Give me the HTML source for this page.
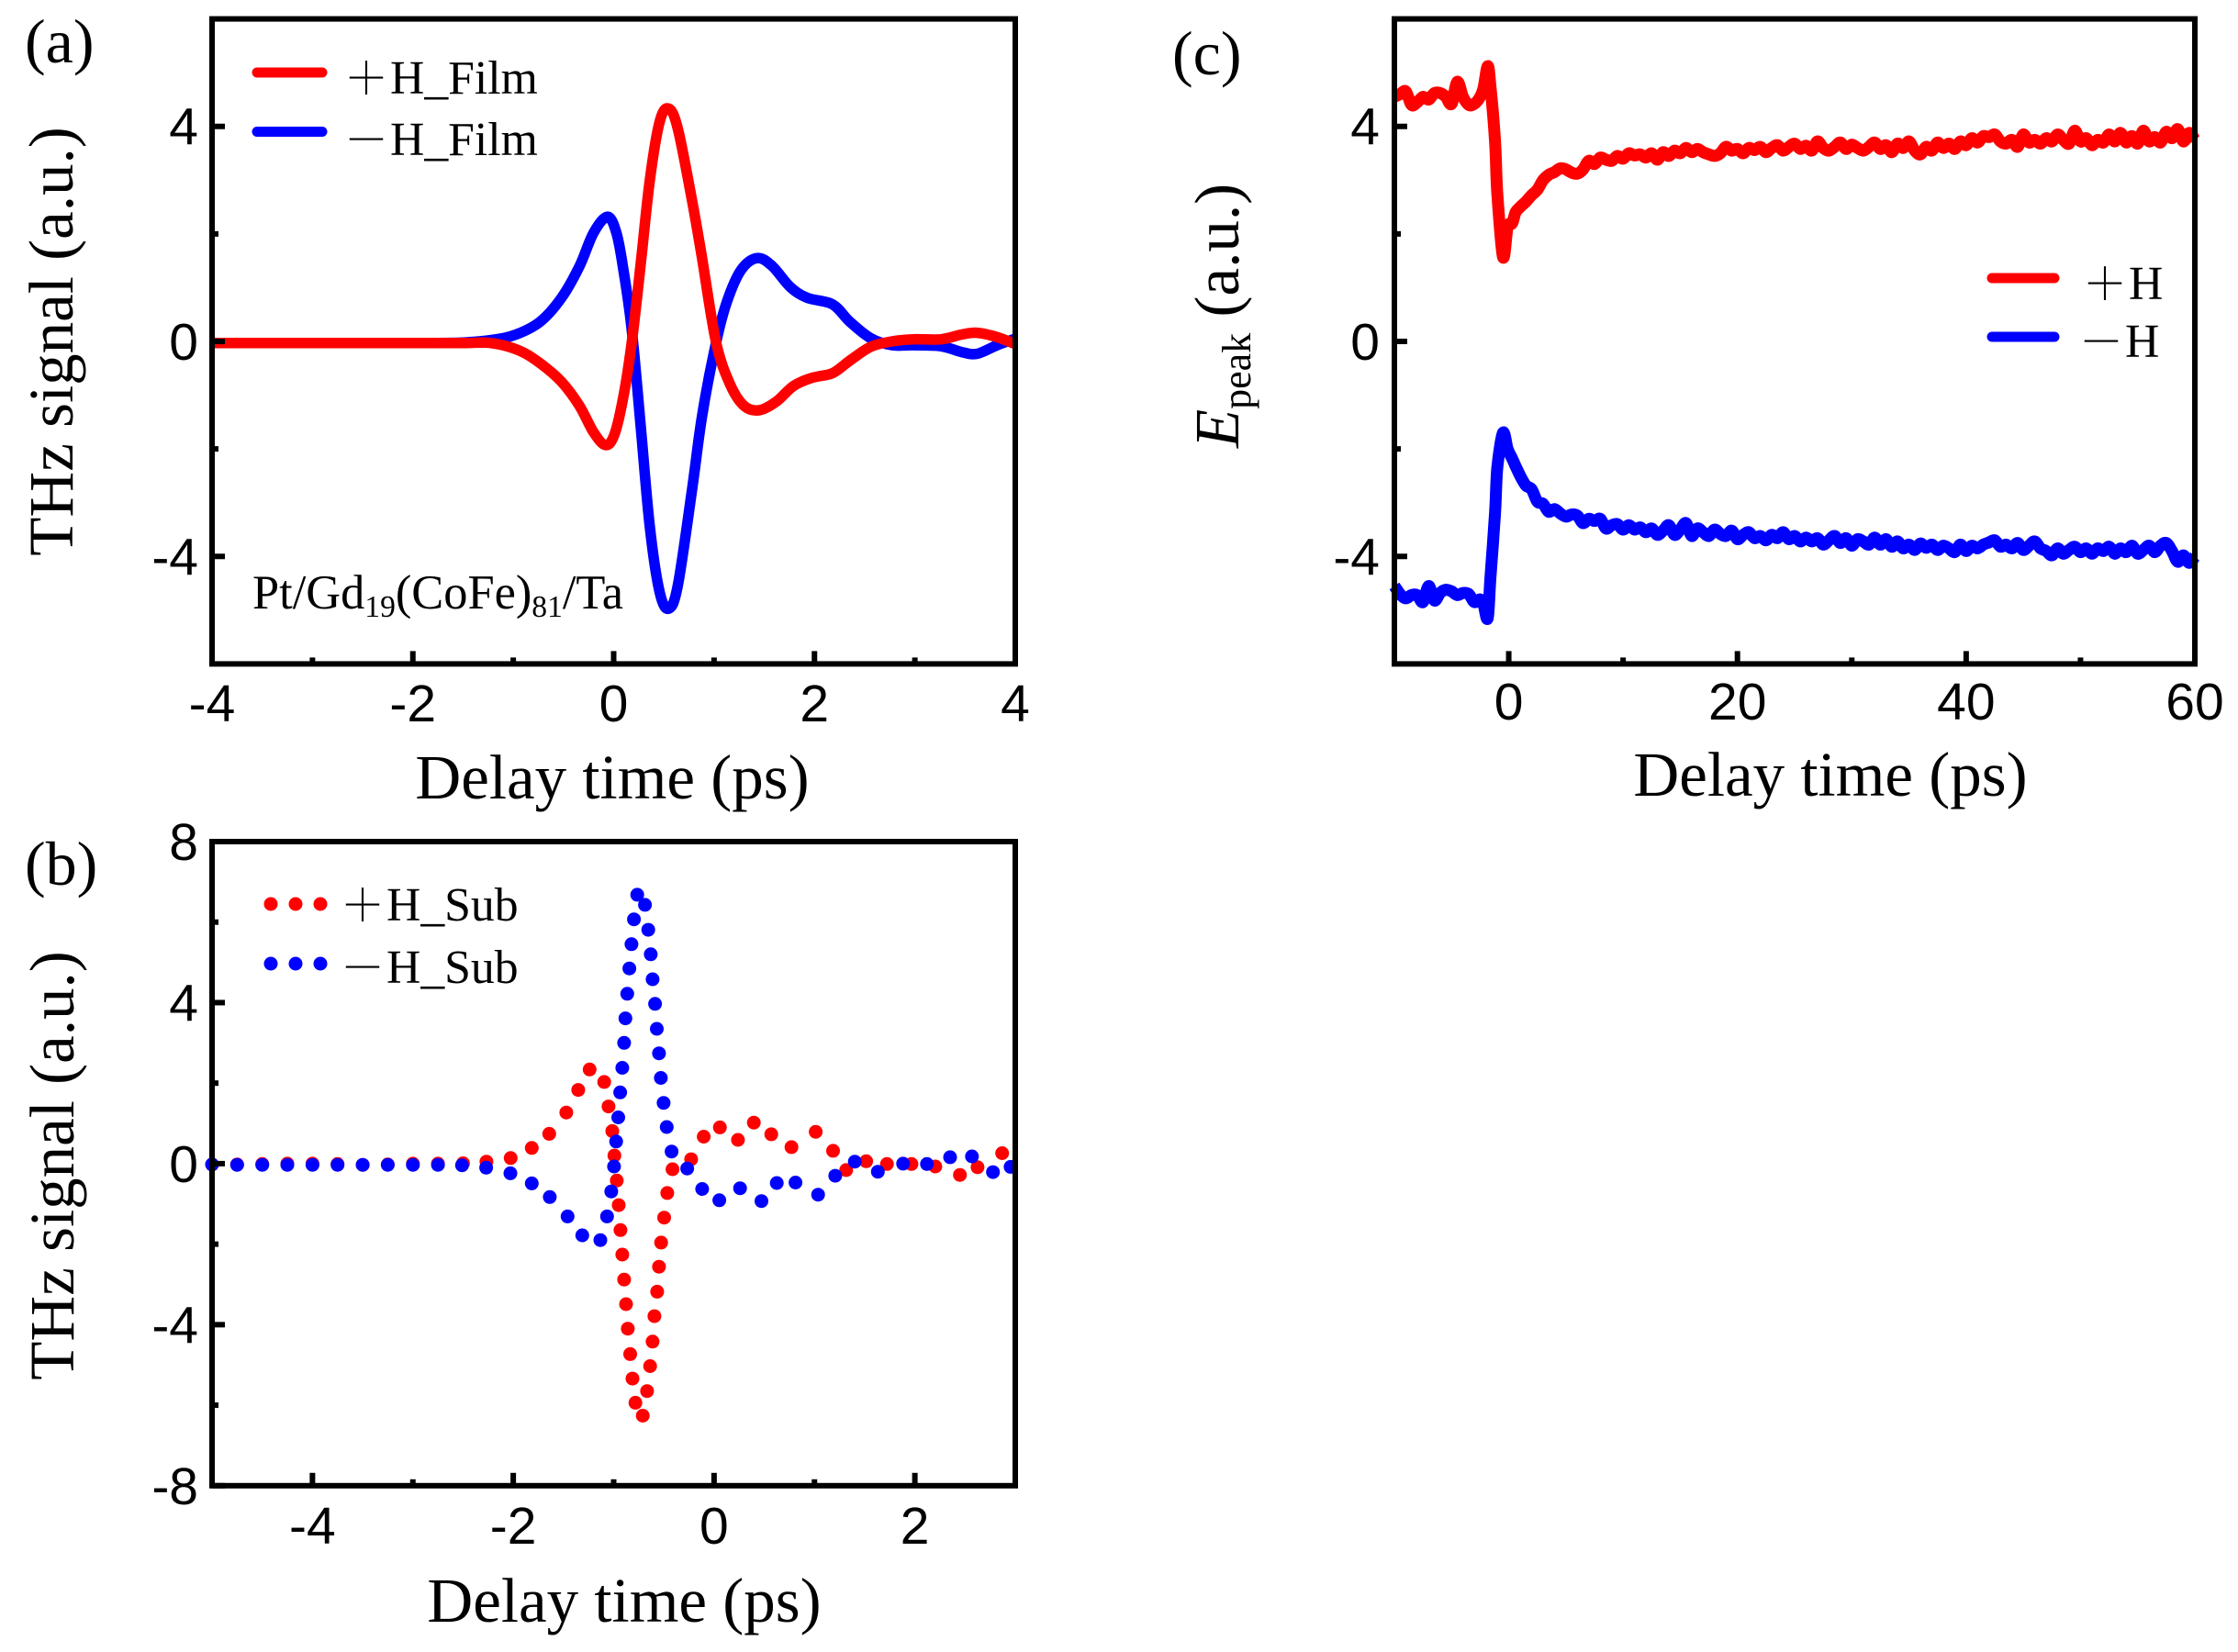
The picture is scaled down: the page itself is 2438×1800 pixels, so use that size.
<!DOCTYPE html>
<html>
<head>
<meta charset="utf-8">
<title>THz signal panels</title>
<style>
html,body{margin:0;padding:0;background:#fff;width:2438px;height:1800px;overflow:hidden}
svg{display:block}
text{font-family:"Liberation Serif","Noto Serif CJK SC",serif;fill:#000}
.tick{font-family:"Liberation Sans",sans-serif;font-size:57px}
.title{font-size:69px}
.panel{font-size:68px}
.leg{font-size:51.7px}
.sym{font-family:"Noto Serif CJK SC",serif;font-size:48px}
</style>
</head>
<body>
<svg id="fig" width="2438" height="1800" viewBox="0 0 2438 1800" xmlns="http://www.w3.org/2000/svg">
  <rect x="0" y="0" width="2438" height="1800" fill="#fff"/>

  <g id="panel-a"></g>
  <g id="panel-b"></g>
  <g id="panel-c"></g>

  <!-- panel a text -->
  <text class="panel" x="27" y="68">(a)</text>
  <text class="title" transform="translate(79,372) rotate(-90)" text-anchor="middle">THz signal (a.u.)</text>
  <text class="title" x="667" y="870" text-anchor="middle">Delay time (ps)</text>
  <line x1="280" y1="79" x2="351" y2="79" stroke="#ff0000" stroke-width="11" stroke-linecap="round"/>
  <line x1="280" y1="143.5" x2="351" y2="143.5" stroke="#0000ff" stroke-width="11" stroke-linecap="round"/>
  <text x="375" y="102"><tspan class="sym">＋</tspan><tspan class="leg" x="425">H_Film</tspan></text>
  <text x="375" y="169"><tspan class="sym">－</tspan><tspan class="leg" x="425">H_Film</tspan></text>
  <text x="275" y="663" font-size="52.4">Pt/Gd<tspan font-size="33.6" dy="9">19</tspan><tspan dy="-9">(CoFe)</tspan><tspan font-size="33.6" dy="9">81</tspan><tspan dy="-9">/Ta</tspan></text>

  <!-- panel b text -->
  <text class="panel" x="27" y="964">(b)</text>
  <text class="title" transform="translate(80,1270) rotate(-90)" text-anchor="middle">THz signal (a.u.)</text>
  <text class="title" x="680" y="1767" text-anchor="middle">Delay time (ps)</text>
  <text x="371" y="1003"><tspan class="sym">＋</tspan><tspan class="leg" x="421">H_Sub</tspan></text>
  <text x="371" y="1071"><tspan class="sym">－</tspan><tspan class="leg" x="421">H_Sub</tspan></text>

  <!-- panel c text -->
  <text class="panel" x="1277" y="81">(c)</text>
  <text class="title" transform="translate(1349,488) rotate(-90)"><tspan font-style="italic">E</tspan><tspan font-size="44" dy="13">peak</tspan><tspan dy="-13"> (a.u.)</tspan></text>
  <text class="title" x="1994" y="867" text-anchor="middle">Delay time (ps)</text>
  <line x1="2170" y1="303" x2="2238" y2="303" stroke="#ff0000" stroke-width="11" stroke-linecap="round"/>
  <line x1="2170" y1="367" x2="2238" y2="367" stroke="#0000ff" stroke-width="11" stroke-linecap="round"/>
  <text x="2269" y="326"><tspan class="sym">＋</tspan><tspan class="leg" x="2319">H</tspan></text>
  <text x="2265" y="389"><tspan class="sym">－</tspan><tspan class="leg" x="2315">H</tspan></text>
</svg>

<script>
// Panel (a): THz signal of the film
var aTime = [-4,-3.5,-3,-2.5,-2,-1.5,-1.22,-0.94,-0.73,-0.52,-0.34,-0.2,-0.08,0.01,0.1,0.18,0.27,0.36,0.46,0.55,0.64,0.78,0.88,1.02,1.16,1.3,1.45,1.62,1.79,1.97,2.18,2.35,2.56,2.77,2.98,3.26,3.47,3.62,3.82,4];
var aPlus = [-0.03,-0.03,-0.03,-0.03,-0.03,-0.03,-0.03,-0.17,-0.41,-0.75,-1.2,-1.69,-1.93,-1.72,-1.0,-0.02,1.45,3.0,4.1,4.33,3.95,2.63,1.55,-0.02,-0.8,-1.2,-1.28,-1.12,-0.83,-0.68,-0.59,-0.36,-0.1,0,0.04,0.04,0.13,0.16,0.08,-0.05];
var aMinusTime = [-4,-3.5,-3,-2.5,-2,-1.5,-1.2,-0.97,-0.73,-0.52,-0.34,-0.2,-0.06,0.03,0.1,0.18,0.27,0.36,0.46,0.55,0.64,0.78,0.88,1.02,1.13,1.27,1.43,1.58,1.76,1.93,2.18,2.35,2.56,2.77,2.98,3.26,3.47,3.62,3.82,4];
var aMinus = [-0.03,-0.03,-0.03,-0.03,-0.03,-0.02,0.03,0.13,0.37,0.81,1.4,2.02,2.32,2.0,1.3,0.22,-1.59,-3.45,-4.68,-4.97,-4.53,-2.77,-1.39,-0.02,0.75,1.33,1.55,1.4,1.01,0.81,0.69,0.37,0.06,-0.07,-0.07,-0.09,-0.2,-0.23,-0.07,0.05];
var aXTicks = [-4,-2,0,2,4];
var aXMinor = [-3,-1,1,3];
var aYTicks = [4,0,-4];
var aYMinor = [2,-2];

// Panel (b): THz signal of the substrate
var bPlusTime = [-5,-4.75,-4.5,-4.25,-4,-3.75,-3.5,-3.25,-3,-2.75,-2.5,-2.267,-2.026,-1.816,-1.642,-1.472,-1.353,-1.24,-1.094,-1.051,-1.014,-0.993,-0.969,-0.95,-0.932,-0.914,-0.896,-0.877,-0.859,-0.835,-0.813,-0.783,-0.71,-0.667,-0.637,-0.612,-0.594,-0.567,-0.548,-0.527,-0.497,-0.466,-0.414,-0.228,-0.103,0.058,0.238,0.396,0.57,0.771,1.012,1.185,1.316,1.515,1.722,1.966,2.204,2.449,2.624,2.869];
var bPlus = [-0.02,-0.02,-0.01,0,0,-0.01,-0.03,-0.02,0,0,0.01,0.05,0.14,0.39,0.74,1.27,1.83,2.34,2.03,1.42,0.81,0.2,-0.42,-1.03,-1.65,-2.26,-2.88,-3.49,-4.1,-4.73,-5.34,-5.94,-6.26,-5.65,-5.03,-4.42,-3.79,-3.18,-2.56,-1.96,-1.34,-0.73,-0.14,0.11,0.67,0.9,0.59,1.02,0.73,0.41,0.79,0.32,-0.16,0.06,-0.01,-0.01,-0.07,-0.28,-0.09,0.26];
var bMinusTime = [-5,-4.75,-4.5,-4.25,-4,-3.75,-3.5,-3.25,-3,-2.75,-2.51,-2.27,-2.029,-1.816,-1.636,-1.459,-1.313,-1.133,-1.066,-1.024,-0.996,-0.975,-0.954,-0.935,-0.914,-0.896,-0.883,-0.865,-0.844,-0.823,-0.798,-0.765,-0.688,-0.655,-0.631,-0.612,-0.588,-0.57,-0.548,-0.53,-0.503,-0.472,-0.423,-0.268,-0.119,0.052,0.259,0.472,0.625,0.811,1.036,1.207,1.402,1.631,1.883,2.12,2.351,2.568,2.778,2.953];
var bMinus = [-0.02,-0.03,-0.03,-0.03,-0.03,-0.03,-0.03,-0.03,-0.03,-0.03,-0.04,-0.1,-0.24,-0.49,-0.83,-1.31,-1.78,-1.9,-1.31,-0.69,-0.07,0.55,1.15,1.77,2.38,3.0,3.61,4.22,4.85,5.45,6.07,6.68,6.43,5.81,5.2,4.58,3.97,3.35,2.74,2.13,1.51,0.91,0.3,-0.12,-0.63,-0.91,-0.61,-0.93,-0.48,-0.47,-0.77,-0.3,0.05,-0.2,0,-0.01,0.16,0.18,-0.21,-0.08];
var bXTicks = [-4,-2,0,2];
var bXMinor = [-3,-1,1];
var bYTicks = [8,4,0,-4,-8];
var bYMinor = [6,2,-2,-6];

// Panel (c): peak amplitude vs delay
var cTime = [-10,-9.5,-9,-8.5,-8,-7.5,-7,-6.5,-6,-5.5,-5,-4.5,-4,-3.5,-3,-2.5,
-2.2,-1.84,-1.6,-1.2,-1,-0.5,-0.1,0.3,0.6,1,1.5,
2,2.5,3,3.5,4,4.5,5,5.5,6,6.5,
7,7.5,8,8.5,9,9.5,10,10.5,11,11.5,
12,12.5,13,13.5,14,14.5,15,15.5,16,16.5,
17,17.5,18,18.5,19,19.5,20,20.5,21,21.5,
22,22.5,23,23.5,24,24.5,25,25.5,26,26.5,
27,27.5,28,28.5,29,29.5,30,30.5,31,31.5,
32,32.5,33,33.5,34,34.5,35,35.5,36,36.5,
37,37.5,38,38.5,39,39.5,40,40.5,41,41.5,
42,42.5,43,43.5,44,44.5,45,45.5,46,46.5,
47,47.5,48,48.5,49,49.5,50,50.5,51,51.5,
52,52.5,53,53.5,54,54.5,55,55.5,56,56.5,
57,57.5,58,58.5,59,59.5,60];
var cPlus = [4.55,4.6,4.65,4.4,4.45,4.55,4.5,4.62,4.62,4.55,4.42,4.83,4.55,4.4,4.42,4.55,
4.72,5.12,4.75,3.73,2.75,1.57,2.13,2.2,2.4,2.5,2.6,
2.72,2.82,3.0,3.1,3.15,3.22,3.2,3.14,3.12,3.2,
3.36,3.3,3.42,3.38,3.36,3.45,3.4,3.5,3.46,3.48,
3.42,3.5,3.38,3.52,3.45,3.55,3.5,3.6,3.52,3.58,
3.52,3.48,3.45,3.5,3.62,3.55,3.58,3.5,3.6,3.56,
3.62,3.52,3.6,3.65,3.55,3.62,3.68,3.58,3.64,3.55,
3.72,3.6,3.55,3.62,3.7,3.58,3.66,3.6,3.55,3.62,
3.7,3.58,3.65,3.52,3.68,3.6,3.72,3.55,3.48,3.62,
3.55,3.7,3.6,3.68,3.58,3.72,3.65,3.78,3.7,3.82,
3.8,3.85,3.72,3.68,3.75,3.62,3.85,3.7,3.75,3.68,
3.78,3.72,3.85,3.75,3.68,3.92,3.72,3.78,3.65,3.75,
3.7,3.85,3.72,3.88,3.7,3.82,3.68,3.92,3.72,3.8,
3.7,3.9,3.78,3.95,3.72,3.88,3.75];
var cMinus = [-4.55,-4.7,-4.78,-4.72,-4.72,-4.85,-4.55,-4.82,-4.68,-4.62,-4.65,-4.72,-4.68,-4.7,-4.85,-4.8,
-4.9,-5.15,-4.4,-3.2,-2.35,-1.7,-2.0,-2.18,-2.32,-2.5,-2.68,
-2.75,-2.98,-3.02,-3.17,-3.12,-3.2,-3.26,-3.22,-3.24,-3.38,
-3.3,-3.34,-3.3,-3.48,-3.42,-3.4,-3.5,-3.42,-3.5,-3.46,
-3.55,-3.48,-3.6,-3.52,-3.42,-3.6,-3.5,-3.38,-3.62,-3.48,
-3.55,-3.62,-3.5,-3.58,-3.62,-3.52,-3.68,-3.6,-3.55,-3.66,
-3.62,-3.7,-3.6,-3.66,-3.55,-3.68,-3.62,-3.72,-3.65,-3.72,
-3.66,-3.78,-3.7,-3.62,-3.75,-3.66,-3.8,-3.68,-3.72,-3.78,
-3.65,-3.78,-3.68,-3.82,-3.72,-3.85,-3.78,-3.88,-3.76,-3.84,
-3.78,-3.88,-3.8,-3.85,-3.92,-3.78,-3.9,-3.8,-3.85,-3.78,
-3.74,-3.7,-3.82,-3.78,-3.85,-3.75,-3.88,-3.8,-3.72,-3.85,
-3.9,-3.98,-3.85,-3.95,-3.88,-3.82,-3.92,-3.85,-3.95,-3.85,
-3.9,-3.82,-3.95,-3.85,-3.92,-3.8,-3.95,-3.88,-3.8,-3.92,
-3.8,-3.75,-3.9,-4.1,-3.98,-4.12,-4.0];
var cXTicks = [0,20,40,60];
var cXMinor = [10,30,50];
var cYTicks = [4,0,-4];
var cYMinor = [2,-2];

var NS = 'http://www.w3.org/2000/svg';

function makeScale(d0, d1, r0, r1) {
  return function (v) { return r0 + (v - d0) * (r1 - r0) / (d1 - d0); };
}

function smoothPath(xs, ys, sx, sy) {
  var pts = xs.map(function (t, i) { return [sx(t), sy(ys[i])]; });
  var d = 'M' + pts[0][0].toFixed(1) + ' ' + pts[0][1].toFixed(1);
  for (var i = 0; i < pts.length - 1; i++) {
    var p0 = pts[Math.max(i - 1, 0)], p1 = pts[i], p2 = pts[i + 1], p3 = pts[Math.min(i + 2, pts.length - 1)];
    var c1x = p1[0] + (p2[0] - p0[0]) / 6, c1y = p1[1] + (p2[1] - p0[1]) / 6;
    var c2x = p2[0] - (p3[0] - p1[0]) / 6, c2y = p2[1] - (p3[1] - p1[1]) / 6;
    d += 'C' + c1x.toFixed(1) + ' ' + c1y.toFixed(1) + ' ' + c2x.toFixed(1) + ' ' + c2y.toFixed(1) + ' ' + p2[0].toFixed(1) + ' ' + p2[1].toFixed(1);
  }
  return d;
}

function drawCurve(g, xs, ys, sx, sy, color, name, width, box) {
  var p = document.createElementNS(NS, 'path');
  
  
  p.setAttribute('d', smoothPath(xs, ys, sx, sy));
  p.setAttribute('fill', 'none');
  p.setAttribute('stroke', color);
  p.setAttribute('stroke-width', width);
  p.setAttribute('stroke-linejoin', 'round');
  p.setAttribute('stroke-linecap', 'butt');
  g.appendChild(p);
}

function drawDots(g, xs, ys, sx, sy, color, name) {
  xs.forEach(function (t, i) {
    var c = document.createElementNS(NS, 'circle');
    
    
    c.setAttribute('cx', sx(t).toFixed(1));
    c.setAttribute('cy', sy(ys[i]).toFixed(1));
    c.setAttribute('r', '7.5');
    c.setAttribute('fill', color);
    g.appendChild(c);
  });
}

function drawTickMark(g, x1, y1, x2, y2) {
  var l = document.createElementNS(NS, 'line');
  
  
  l.setAttribute('x1', x1);
  l.setAttribute('y1', y1);
  l.setAttribute('x2', x2);
  l.setAttribute('y2', y2);
  l.setAttribute('stroke', '#000');
  l.setAttribute('stroke-width', '6');
  g.appendChild(l);
}

function drawTickLabel(g, x, y, anchor, str) {
  var t = document.createElementNS(NS, 'text');
  
  
  t.setAttribute('class', 'tick');
  t.setAttribute('x', x);
  t.setAttribute('y', y);
  t.setAttribute('text-anchor', anchor);
  t.textContent = String(str);
  g.appendChild(t);
}

function drawAxes(g, box, sx, sy, xT, xM, yT, yM, xLabelY, yLabelX) {
  xT.forEach(function (v) {
    var x = sx(v);
    drawTickMark(g, x, box.b, x, box.b - 14);
    drawTickLabel(g, x, xLabelY, 'middle', v);
  });
  xM.forEach(function (v) {
    var x = sx(v);
    drawTickMark(g, x, box.b, x, box.b - 7);
  });
  yT.forEach(function (v) {
    var y = sy(v);
    drawTickMark(g, box.l, y, box.l + 14, y);
    drawTickLabel(g, yLabelX, y + 20, 'end', v);
  });
  yM.forEach(function (v) {
    var y = sy(v);
    drawTickMark(g, box.l, y, box.l + 7, y);
  });
}

function drawFrame(g, box) {
  var r = document.createElementNS(NS, 'rect');
  
  
  r.setAttribute('x', box.l);
  r.setAttribute('y', box.t);
  r.setAttribute('width', box.r - box.l);
  r.setAttribute('height', box.b - box.t);
  r.setAttribute('fill', 'none');
  r.setAttribute('stroke', '#000');
  r.setAttribute('stroke-width', '6');
  g.appendChild(r);
}

// Panel a
var gA = document.getElementById('panel-a');
var boxA = {l: 231, r: 1106, t: 20.6, b: 723.4};
var xA = makeScale(-4, 4, boxA.l, boxA.r);
var yA = makeScale(-6, 6, boxA.b, boxA.t);
drawCurve(gA, aMinusTime, aMinus, xA, yA, '#0000ff', 'series-minus-h-film', 11.5);
drawCurve(gA, aTime, aPlus, xA, yA, '#ff0000', 'series-plus-h-film', 11.5);
drawAxes(gA, boxA, xA, yA, aXTicks, aXMinor, aYTicks, aYMinor, 786, 216);
drawFrame(gA, boxA);

// Panel b
var gB = document.getElementById('panel-b');
var boxB = {l: 231, r: 1106, t: 917, b: 1618.8};
var xB = makeScale(-5, 3, boxB.l, boxB.r);
var yB = makeScale(-8, 8, boxB.b, boxB.t);
drawDots(gB, bPlusTime, bPlus, xB, yB, '#ff0000', 'point-plus-h-sub');
drawDots(gB, bMinusTime, bMinus, xB, yB, '#0000ff', 'point-minus-h-sub');
drawAxes(gB, boxB, xB, yB, bXTicks, bXMinor, bYTicks, bYMinor, 1682, 216);
drawFrame(gB, boxB);
var legendDotX = [295, 322, 349];
legendDotX.forEach(function (x) {
  var c1 = document.createElementNS(NS, 'circle');
  
  
  c1.setAttribute('cx', x);
  c1.setAttribute('cy', 985);
  c1.setAttribute('r', '7.5');
  c1.setAttribute('fill', '#ff0000');
  gB.appendChild(c1);
  var c2 = document.createElementNS(NS, 'circle');
  
  
  c2.setAttribute('cx', x);
  c2.setAttribute('cy', 1050);
  c2.setAttribute('r', '7.5');
  c2.setAttribute('fill', '#0000ff');
  gB.appendChild(c2);
});

// Panel c
var gC = document.getElementById('panel-c');
var boxC = {l: 1519, r: 2391, t: 20.6, b: 723.4};
var xC = makeScale(-10, 60, boxC.l, boxC.r);
var yC = makeScale(-6, 6, boxC.b, boxC.t);
drawCurve(gC, cTime, cPlus, xC, yC, '#ff0000', 'series-plus-h', 13);
drawCurve(gC, cTime, cMinus, xC, yC, '#0000ff', 'series-minus-h', 13);
drawAxes(gC, boxC, xC, yC, cXTicks, cXMinor, cYTicks, cYMinor, 784, 1503);
drawFrame(gC, boxC);
</script>
</body>
</html>
